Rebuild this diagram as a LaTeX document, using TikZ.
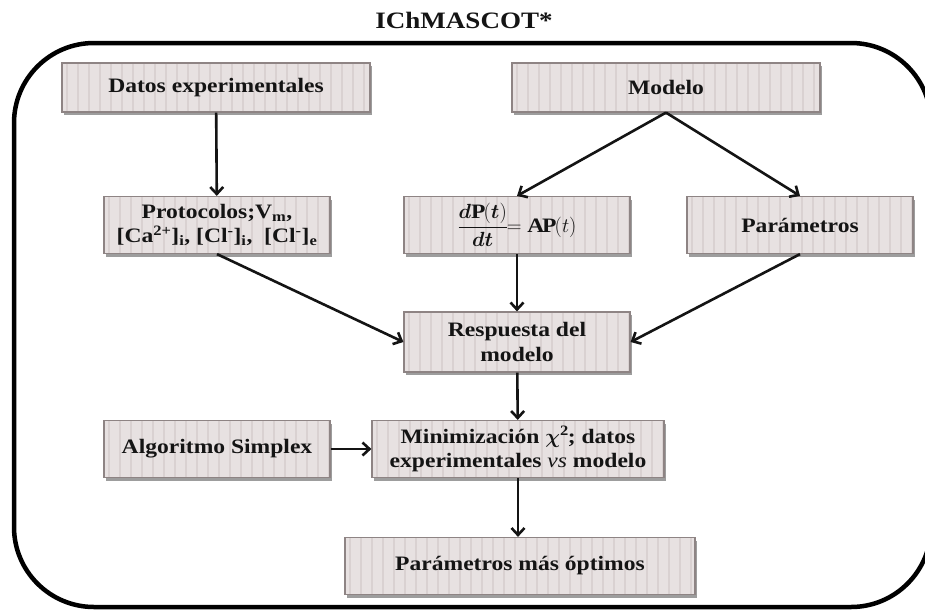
\documentclass[tikz,border=0pt]{standalone}
\usepackage{amsmath}
\usepackage{fix-cm}
\usepackage{fontspec}
\setmainfont{Liberation Serif}[FakeStretch=1.15]
\usetikzlibrary{arrows.meta,shadows,calc}

\definecolor{boxfill}{HTML}{E7E1E1}
\definecolor{boxstripe}{HTML}{D9D1D1}
\definecolor{boxline}{HTML}{8E8484}
\definecolor{inkc}{HTML}{141414}

\tikzset{
  x=1pt, y=-1pt,
  stepbox/.style={
    draw=boxline, line width=1.2pt, fill=boxfill, inner sep=2pt,
    align=center, text=inkc,
    font=\fontsize{20.5}{24.5}\selectfont\bfseries,
    drop shadow={shadow xshift=2pt, shadow yshift=-3pt, fill=black!55, opacity=0.7},
    path picture={
      \foreach \k in {0,...,34}{
        \draw[boxstripe, line width=1.3pt]
          ($(path picture bounding box.north west)+(\k*11+5,0)$) --
          ($(path picture bounding box.south west)+(\k*11+5,0)$);
      }
    }
  },
  conn/.style={draw=inkc, line width=2.6pt,
    -{Straight Barb[length=7pt,width=13pt]}},
  frame/.style={draw=black, line width=4.5pt, rounded corners=80pt},
}

\begin{document}
\begin{tikzpicture}
  \useasboundingbox (0,0) rectangle (925,613);
  \clip (0,0) rectangle (925,613);

  % title and outer frame
  \node[font=\fontsize{23.5}{27}\selectfont\bfseries, text=inkc] (title) at (464,20) {IChMASCOT*};
  \draw[frame] (14,43) rectangle (931,607);

  % boxes
  \node[stepbox, minimum width=308pt, minimum height=49pt] (datos) at (216,87.5) {Datos experimentales};
  \node[stepbox, minimum width=308pt, minimum height=49pt] (modelo) at (666,87.5) {Modelo};
  \node[stepbox, minimum width=226pt, minimum height=57pt] (proto) at (217,225)
    {Protocolos;V\textsubscript{m},\\{}%
     [Ca\textsuperscript{2+}]\textsubscript{i}, [Cl\textsuperscript{-}]\textsubscript{i},\ \ [Cl\textsuperscript{-}]\textsubscript{e}};
  \node[stepbox, minimum width=226pt, minimum height=57pt] (dp) at (517,225)
    {$\dfrac{\boldsymbol{d}\mathbf{P}(\boldsymbol{t})}{\boldsymbol{dt}}$\kern-1pt$=\mathbf{AP}(t)$};
  \node[stepbox, minimum width=226pt, minimum height=57pt] (param) at (800,225) {Parámetros};
  \node[stepbox, minimum width=226pt, minimum height=60pt] (resp) at (517,342) {Respuesta del\\modelo};
  \node[stepbox, minimum width=226pt, minimum height=57pt] (algo) at (217,449) {Algoritmo Simplex};
  \node[stepbox, minimum width=292pt, minimum height=57pt] (mini) at (518,449)
    {Minimización $\boldsymbol{\chi}^{\mathbf{2}}$;\ datos\\
     experimentales {\mdseries\itshape vs} modelo};
  \node[stepbox, minimum width=350pt, minimum height=57pt] (opt) at (520,566) {Parámetros más óptimos};

  % connectors
  \draw[conn] (datos) -- (proto);
  \draw[conn] (modelo.south) -- (dp.north);
  \draw[conn] (modelo.south) -- (param.north);
  \draw[conn] (proto.south) -- (resp.west);
  \draw[conn] (dp) -- (resp);
  \draw[conn] (param.south) -- (resp.east);
  \draw[conn] (resp) -- (mini);
  \draw[conn] (algo) -- (mini);
  \draw[conn] (mini.south) -- (opt.north -| mini.south);
\end{tikzpicture}
\end{document}
